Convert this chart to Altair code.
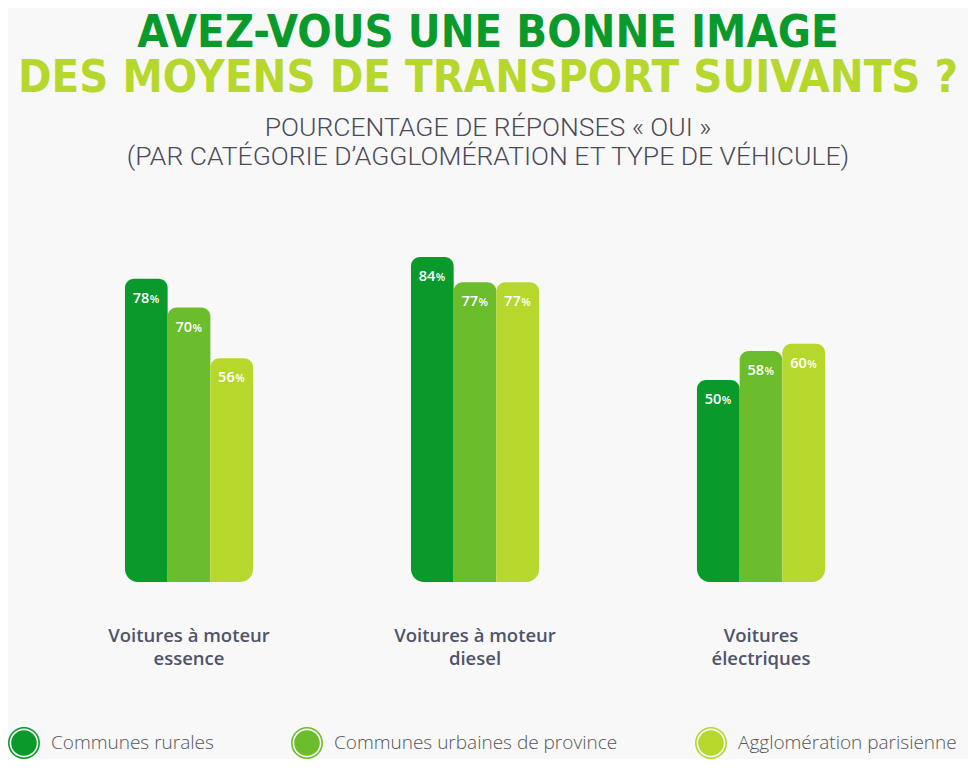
import altair as alt
import pandas as pd

categories = ["Voitures à moteur essence", "Voitures à moteur diesel", "Voitures électriques"]
series = ["Communes rurales", "Communes urbaines de province", "Agglomération parisienne"]
values = {
    "Communes rurales": [78, 84, 50],
    "Communes urbaines de province": [70, 77, 58],
    "Agglomération parisienne": [56, 77, 60],
}
colors = ["#0a9a2b", "#6cbd2b", "#b6d72b"]

rows = []
for s in series:
    for c, v in zip(categories, values[s]):
        rows.append({"cat": c, "serie": s, "val": v})
df = pd.DataFrame(rows)

W, H = 960, 383
Y_MIN, Y_MAX = -5.8, 100
BG = "#f8f8f8"

ring = ("M -1 0 A 1 1 0 1 1 1 0 A 1 1 0 1 1 -1 0 Z "
        "M -0.9 0 A 0.9 0.9 0 1 0 0.9 0 A 0.9 0.9 0 1 0 -0.9 0 Z "
        "M -0.8 0 A 0.8 0.8 0 1 1 0.8 0 A 0.8 0.8 0 1 1 -0.8 0 Z")

x_enc = alt.X(
    "cat:N", sort=categories, title=None,
    scale=alt.Scale(paddingInner=0.552, paddingOuter=0.4543, align=0.45),
    axis=alt.Axis(
        domain=False, ticks=False, labelAngle=0, labelPadding=44,
        labelFont="Open Sans", labelFontSize=18.5, labelFontWeight=600,
        labelColor="#4f5468", labelLineHeight=23, labelBaseline="top",
        labelExpr="split(replace(replace(datum.label, 'moteur ', 'moteur|'), 'Voitures é', 'Voitures|é'), '|')",
    ),
)
xo_enc = alt.XOffset("serie:N", sort=series, scale=alt.Scale(domain=series, paddingInner=0, paddingOuter=0))
y_enc = alt.Y("val:Q", scale=alt.Scale(domain=[Y_MIN, Y_MAX]), axis=None)
c_enc = alt.Color(
    "serie:N", sort=series,
    scale=alt.Scale(domain=series, range=colors),
    legend=alt.Legend(
        title=None, orient="none", direction="horizontal", legendX=0, legendY=528,
        symbolType=ring, symbolSize=1024, symbolStrokeWidth=0, symbolOpacity=1,
        labelFont="Open Sans", labelFontSize=19, labelFontWeight=300, labelColor="#555555",
        labelOffset=11, columnPadding=77, labelLimit=400,
    ),
)

base = alt.Chart(df).encode(x=x_enc, xOffset=xo_enc, color=c_enc)

layers = []
for i, s in enumerate(series):
    layers.append(
        base.transform_filter(alt.datum.serie == s)
        .mark_bar(
            cornerRadiusTopLeft=9, cornerRadiusTopRight=9,
            cornerRadiusBottomLeft=13 if i == 0 else 0,
            cornerRadiusBottomRight=13 if i == 2 else 0,
        )
        .encode(y=y_enc, y2=alt.datum(Y_MIN))
    )

num = alt.Chart(df).mark_text(
    align="right", baseline="alphabetic", dx=3, dy=24,
    font="Open Sans", fontSize=14.5, fontWeight=600, color="white",
).encode(x=x_enc, xOffset=xo_enc, y=y_enc, text="val:Q")

pct = alt.Chart(df).mark_text(
    align="left", baseline="alphabetic", dx=3.5, dy=24,
    font="Open Sans", fontSize=11, fontWeight=600, color="white",
).encode(x=x_enc, xOffset=xo_enc, y=y_enc, text=alt.value("%"))

inner = alt.layer(*layers, num, pct).properties(
    width=W, height=H,
    title=alt.TitleParams(
        ["POURCENTAGE DE RÉPONSES « OUI »", "(PAR CATÉGORIE D’AGGLOMÉRATION ET TYPE DE VÉHICULE)"],
        font="Roboto", fontSize=26.5, fontWeight=300, color="#4a4a57",
        lineHeight=29, anchor="middle", offset=29,
    ),
)

chart = alt.vconcat(
    inner,
    title=alt.TitleParams(
        "AVEZ-VOUS UNE BONNE IMAGE",
        subtitle="DES MOYENS DE TRANSPORT SUIVANTS ?",
        font="DejaVu Sans Condensed, Roboto", fontSize=45, fontWeight="bold", color="#0a9a2b",
        subtitleFont="DejaVu Sans Condensed, Roboto", subtitleFontSize=45, subtitleFontWeight="bold",
        subtitleColor="#b6d72b", subtitlePadding=0, anchor="middle", offset=14,
    ),
).properties(
    padding={"left": 0, "right": 0, "top": 2, "bottom": 0},
    background=BG,
).configure_view(stroke=None)

chart.save("out.html", embed_options={"renderer": "svg", "actions": False})
